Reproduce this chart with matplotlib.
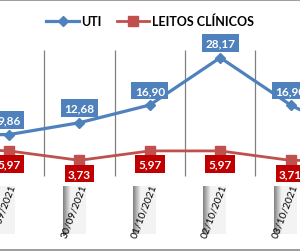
import matplotlib
matplotlib.use("Agg")
import matplotlib.pyplot as plt
import numpy as np
from matplotlib.lines import Line2D

# data (first and last points fall outside the visible crop)
dates = ["28/09/2021", "29/09/2021", "30/09/2021", "01/10/2021",
         "02/10/2021", "03/10/2021", "04/10/2021"]
uti = [9.70, 9.86, 12.68, 16.90, 28.17, 16.90, 8.50]
leitos = [6.70, 5.97, 3.73, 5.97, 5.97, 3.71, 3.73]

blue = "#4F81BD"
red_line = "#C0504D"
red_box = "#C00000"

plt.rcParams['font.family'] = ['Lato', 'DejaVu Sans']

fig = plt.figure(figsize=(3.0, 2.53), dpi=100)
ax = fig.add_axes([0, 0, 1, 1])
ax.set_axis_off()

x = np.arange(len(dates)) - 1   # index 0 == 29/09

# category separators
for xi in x[:-1]:
    ax.vlines(xi + 0.5, 0, 30.0, color="#808080", lw=0.9, zorder=1)

ax.plot(x, uti, color=blue, lw=2.3, marker="D", ms=5.5, zorder=3, label="UTI")
ax.plot(x, leitos, color=red_line, lw=2.0, marker="s", ms=6.5, zorder=3,
        label="LEITOS CLÍNICOS")

for xi, v in zip(x, uti):
    ax.annotate(f"{v:.2f}".replace(".", ","), (xi, v), xytext=(0, 10.5),
                textcoords="offset points", ha="center", va="center",
                color="white", fontsize=8.5, fontweight="bold", zorder=5,
                bbox=dict(boxstyle="square,pad=0.28", fc=blue, ec="none"))

for xi, v in zip(x, leitos):
    ax.annotate(f"{v:.2f}".replace(".", ","), (xi, v), xytext=(0, -9.5),
                textcoords="offset points", ha="center", va="center",
                color="white", fontsize=8.5, fontweight="bold", zorder=4,
                bbox=dict(boxstyle="square,pad=0.28", fc=red_box, ec="none"))

# date labels on gray gradient tabs
grad = np.concatenate([np.linspace(0.52, 0.94, 8), np.full(15, 0.95)])
grad = np.tile(grad, (2, 1))
for xi, d in zip(x, dates):
    ax.imshow(grad, cmap="gray", vmin=0, vmax=1, aspect="auto",
              extent=(xi - 0.24, xi + 0.085, -13.8, -2.6), zorder=2)
    ax.text(xi - 0.085, -8.2, d, rotation=69, ha="center", va="center",
            fontsize=7.4, color="black", zorder=3)

ax.set_xlim(-0.128, 4.133)
ax.set_ylim(-18.1, 42.14)

leg = ax.legend(loc="center", bbox_to_anchor=(0.5, 1 - 22 / 253), ncol=2,
                frameon=False, handlelength=2.6, columnspacing=1.2,
                handletextpad=0.2, prop={"weight": "bold", "size": 9})

fig.add_artist(Line2D([0, 1], [1 - 1 / 253] * 2, color="#8c8c8c", lw=1.2))
fig.add_artist(Line2D([0, 1], [1 - 251 / 253] * 2, color="#8c8c8c", lw=1.2))

fig.savefig("out.png", dpi=100)
